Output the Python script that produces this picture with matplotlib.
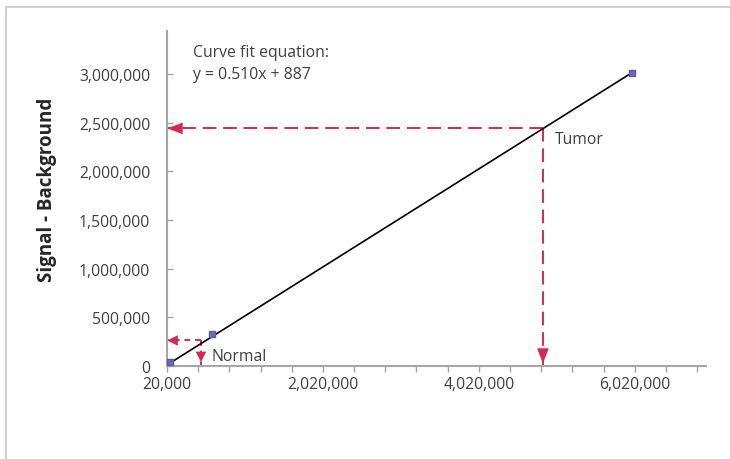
import matplotlib
matplotlib.use("Agg")
import matplotlib.pyplot as plt
from matplotlib.lines import Line2D
from matplotlib.ticker import FixedLocator, FuncFormatter


# punkty kalibracyjne
pts_x = [58000, 597000, 5985000]
pts_y = [45000, 329000, 3010000]

# linia dopasowania (koncowki)
fit_x = [58000, 5985000]
fit_y = [30000, 3012000]

# odczyty: guz / tkanka prawidlowa
tumor_x, tumor_y = 4843000, 2440000
normal_x, normal_y = 456000, 262000

x_min, x_max = 20000, 6935000
y_min, y_max = 0, 3440000

x_major = [20000, 2020000, 4020000, 6020000]
x_minor = [20000 + 400000 * i for i in range(18)]
y_major = [0, 500000, 1000000, 1500000, 2000000, 2500000, 3000000]

RED = "#d42a4e"
GREY_TXT = "#404040"
FS = 11.3

plt.rcParams["font.family"] = ["Open Sans", "DejaVu Sans"]

fig = plt.figure(figsize=(7.3, 4.6), dpi=100)
W, H = 730, 460
ax = fig.add_axes([167 / W, (H - 367) / H, (706 - 167) / W, (367 - 32) / H])

# ramka wykresu (gora i lewa)
fig.add_artist(Line2D([6 / W, 1], [1 - 8 / H, 1 - 8 / H], transform=fig.transFigure,
                      color="#d0d0d0", lw=1.5))
fig.add_artist(Line2D([6 / W, 6 / W], [0, 1 - 8 / H], transform=fig.transFigure,
                      color="#d0d0d0", lw=1.5))

ax.plot(fit_x, fit_y, color="black", lw=1.2, zorder=3)
ax.plot(pts_x, pts_y, ls="none", marker="s", ms=5, mfc="#6a6ab8", mec="#5a5aa8", zorder=4)

# tumor - przerywane linie ze strzalkami
ax.plot([tumor_x, x_min], [tumor_y, tumor_y], color=RED, lw=1.4, dashes=(7, 3.5), zorder=2)
ax.plot([tumor_x, tumor_x], [tumor_y, y_min], color=RED, lw=1.4, dashes=(7, 3.5), zorder=2)
head = dict(arrowstyle="-|>,head_length=1.1,head_width=0.42", color=RED, lw=0,
            shrinkA=0, shrinkB=0)
ax.annotate("", xy=(x_min + 5000, tumor_y), xytext=(14, 0), textcoords="offset points",
            arrowprops=head, annotation_clip=False)
ax.annotate("", xy=(tumor_x, y_min + 25000), xytext=(0, 12), textcoords="offset points",
            arrowprops=head, annotation_clip=False)

# normal
ax.plot([normal_x, x_min], [normal_y, normal_y], color=RED, lw=1.4, dashes=(3, 2.5), zorder=2)
ax.plot([normal_x, normal_x], [normal_y, y_min], color=RED, lw=1.4, dashes=(3, 2.5), zorder=2)
head_s = dict(arrowstyle="-|>,head_length=0.75,head_width=0.38", color=RED, lw=0,
              shrinkA=0, shrinkB=0)
ax.annotate("", xy=(x_min + 5000, normal_y), xytext=(10, 0), textcoords="offset points",
            arrowprops=head_s, annotation_clip=False)
ax.annotate("", xy=(normal_x, y_min + 40000), xytext=(0, 9), textcoords="offset points",
            arrowprops=head_s, annotation_clip=False)

ax.text(tumor_x + 150000, tumor_y - 110000, "Tumor", fontsize=FS, color=GREY_TXT, va="center")
ax.text(normal_x + 130000, normal_y - 160000, "Normal", fontsize=FS, color=GREY_TXT, va="center")
ax.text(0.048, 0.96, "Curve fit equation:\ny = 0.510x + 887", transform=ax.transAxes,
        fontsize=FS, color=GREY_TXT, va="top", ha="left", linespacing=1.45)

ax.set_xlim(x_min, x_max)
ax.set_ylim(y_min, y_max)

ax.xaxis.set_major_locator(FixedLocator(x_major))
ax.xaxis.set_minor_locator(FixedLocator(x_minor))
ax.yaxis.set_major_locator(FixedLocator(y_major))
fmt = FuncFormatter(lambda v, p: f"{int(round(v)):,}")
ax.xaxis.set_major_formatter(fmt)
ax.yaxis.set_major_formatter(fmt)

for s in ["top", "right"]:
    ax.spines[s].set_visible(False)
for s in ["left", "bottom"]:
    ax.spines[s].set_color("#a6a6a6")
    ax.spines[s].set_linewidth(1.5)

ax.tick_params(axis="x", which="both", direction="out", length=4, width=1, color="#a6a6a6",
               labelsize=FS, labelcolor=GREY_TXT, pad=3)
ax.tick_params(axis="y", which="both", direction="in", length=4, width=1, color="#a6a6a6",
               labelsize=FS, labelcolor=GREY_TXT, pad=12)

ax.set_ylabel("Signal - Background", fontsize=13.5, fontweight="bold", color="#262626")
ax.yaxis.set_label_coords(-0.205, 0.53)

fig.savefig("out.png", dpi=100)
